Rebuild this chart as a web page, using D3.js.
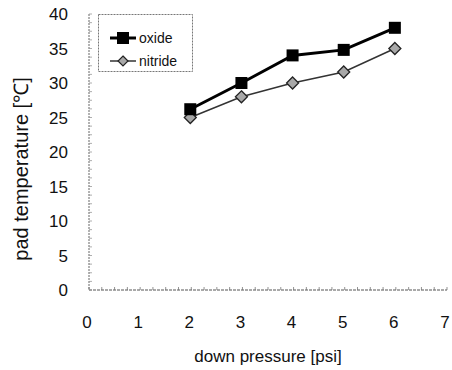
<!DOCTYPE html>
<html>
<head>
<meta charset="utf-8">
<script src="https://cdn.jsdelivr.net/npm/d3@7"></script>
<style>
  body { margin: 0; background: #fff; }
  text { font-family: "Liberation Sans", Arial, sans-serif; fill: #111; }
</style>
</head>
<body>
<div id="chart"></div>
<script>
// values
var pressure = [2, 3, 4, 5, 6];
var oxide = [26.2, 30, 34, 34.8, 38];
var nitride = [25, 28, 30, 31.6, 35];
var xTicks = [0, 1, 2, 3, 4, 5, 6, 7];
var yTicks = [0, 5, 10, 15, 20, 25, 30, 35, 40];

var W = 452, H = 370;
var margin = { top: 14, right: 4, bottom: 80, left: 88 };

var svg = d3.select("#chart").append("svg")
  .attr("width", W)
  .attr("height", H);

var x = d3.scaleLinear().domain([0, 7]).range([margin.left, 446]);
var y = d3.scaleLinear().domain([0, 40]).range([290, margin.top]);

// dotted axis lines
svg.append("line")
  .attr("x1", x(0) + 1).attr("x2", x(0) + 1)
  .attr("y1", y(40)).attr("y2", y(0))
  .attr("stroke", "#666").attr("stroke-width", 1)
  .attr("stroke-dasharray", "2,1");
svg.append("line")
  .attr("x1", x(0) + 1).attr("x2", x(7) + 1)
  .attr("y1", y(0)).attr("y2", y(0))
  .attr("stroke", "#555").attr("stroke-width", 1)
  .attr("stroke-dasharray", "3,1");

// tiny minor ticks
svg.selectAll(".xminor")
  .data(d3.range(0, 7.01, 0.25))
  .enter().append("line")
    .attr("x1", function (d) { return x(d) + 1; })
    .attr("x2", function (d) { return x(d) + 1; })
    .attr("y1", y(0) - 3).attr("y2", y(0))
    .attr("stroke", "#777").attr("stroke-width", 0.8);
svg.selectAll(".yminor")
  .data(d3.range(0, 40.01, 1.25))
  .enter().append("line")
    .attr("x1", x(0) + 1).attr("x2", x(0) + 4)
    .attr("y1", function (d) { return y(d); })
    .attr("y2", function (d) { return y(d); })
    .attr("stroke", "#999").attr("stroke-width", 0.8);

// tick labels
svg.selectAll(".xlab")
  .data(xTicks)
  .enter().append("text")
    .attr("x", function (d) { return x(d) - 1; })
    .attr("y", 328)
    .attr("text-anchor", "middle")
    .style("font-size", "17px")
    .text(function (d) { return d; });

svg.selectAll(".ylab")
  .data(yTicks)
  .enter().append("text")
    .attr("x", 68)
    .attr("y", function (d) { return y(d) + 6; })
    .attr("text-anchor", "end")
    .style("font-size", "17px")
    .text(function (d) { return d; });

// axis titles
svg.append("text")
  .attr("x", 268).attr("y", 362)
  .attr("text-anchor", "middle")
  .style("font-size", "17px")
  .text("down pressure [psi]");

svg.append("text")
  .attr("transform", "translate(28,169) rotate(-90)")
  .attr("text-anchor", "middle")
  .style("font-size", "20px")
  .text("pad temperature [\u2103]");

var line = d3.line()
  .x(function (d) { return x(d[0]); })
  .y(function (d) { return y(d[1]); });

var oxidePts = pressure.map(function (p, i) { return [p, oxide[i]]; });
var nitridePts = pressure.map(function (p, i) { return [p, nitride[i]]; });

svg.append("path").datum(nitridePts)
  .attr("d", line).attr("fill", "none")
  .attr("stroke", "#333").attr("stroke-width", 1.5);
svg.append("path").datum(oxidePts)
  .attr("d", line).attr("fill", "none")
  .attr("stroke", "#000").attr("stroke-width", 3);

svg.selectAll(".nit")
  .data(nitridePts)
  .enter().append("path")
    .attr("transform", function (d) { return "translate(" + x(d[0]) + "," + y(d[1]) + ")"; })
    .attr("d", "M0,-6L6,0L0,6L-6,0Z")
    .attr("fill", "#a8a8a8").attr("stroke", "#222").attr("stroke-width", 1.3);

svg.selectAll(".ox")
  .data(oxidePts)
  .enter().append("rect")
    .attr("x", function (d) { return x(d[0]) - 6; })
    .attr("y", function (d) { return y(d[1]) - 6; })
    .attr("width", 12).attr("height", 12)
    .attr("fill", "#000");

// legend
var lg = svg.append("g");
lg.append("rect")
  .attr("x", 98.5).attr("y", 14.5)
  .attr("width", 94).attr("height", 57)
  .attr("fill", "none").attr("stroke", "#777")
  .attr("stroke-dasharray", "2,1");
lg.append("line")
  .attr("x1", 110).attr("x2", 136).attr("y1", 38).attr("y2", 38)
  .attr("stroke", "#000").attr("stroke-width", 3);
lg.append("rect")
  .attr("x", 117).attr("y", 32).attr("width", 12).attr("height", 12)
  .attr("fill", "#000");
lg.append("text").attr("x", 139).attr("y", 43)
  .style("font-size", "14px").text("oxide");
lg.append("line")
  .attr("x1", 110).attr("x2", 136).attr("y1", 61).attr("y2", 61)
  .attr("stroke", "#333").attr("stroke-width", 1.5);
lg.append("path")
  .attr("transform", "translate(123,61)")
  .attr("d", "M0,-5L5,0L0,5L-5,0Z")
  .attr("fill", "#a8a8a8").attr("stroke", "#222").attr("stroke-width", 1.2);
lg.append("text").attr("x", 139).attr("y", 66)
  .style("font-size", "14px").text("nitride");
</script>
</body>
</html>
